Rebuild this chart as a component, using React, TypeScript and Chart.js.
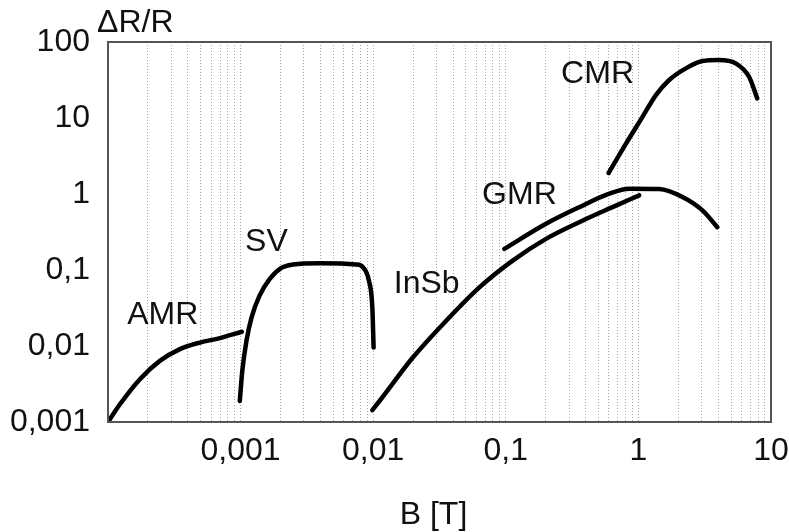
import React, { useEffect, useRef } from "react";
import { Chart, registerables } from "chart.js";

Chart.register(...registerables);

// Magnetic field B [T] and relative resistance change ΔR/R for each effect
const amrB = [1e-4, 1.23e-4, 1.74e-4, 2.46e-4, 3.49e-4, 4.93e-4, 6.97e-4, 1.02e-3];
const amrR = [1e-3, 1.71e-3, 3.66e-3, 6.38e-3, 9.1e-3, 1.11e-2, 1.27e-2, 1.54e-2];

const svB = [9.86e-4, 1.03e-3, 1.107e-3, 1.21e-3, 1.39e-3, 1.66e-3, 2.03e-3, 2.48e-3, 3.95e-3, 7.46e-3, 8.36e-3, 9.28e-3, 9.85e-3, 1.007e-2];
const svR = [1.89e-3, 4.71e-3, 1.17e-2, 2.38e-2, 4.6e-2, 7.63e-2, 0.1067, 0.118, 0.1226, 0.118, 0.1086, 0.0724, 0.0322, 0.00955];

const insbB = [9.85e-3, 1.117e-2, 1.99e-2, 3.55e-2, 6.32e-2, 0.1127, 0.201, 0.358, 0.638, 1.014];
const insbR = [1.43e-3, 1.89e-3, 7.05e-3, 0.0215, 0.0591, 0.133, 0.257, 0.426, 0.671, 0.959];

const gmrB = [0.0975, 0.201, 0.358, 0.603, 0.853, 1.435, 2.15, 3.04, 3.94];
const gmrR = [0.19, 0.406, 0.671, 1.01, 1.175, 1.16, 0.91, 0.608, 0.366];

const cmrB = [0.596, 0.806, 1.074, 1.355, 1.707, 2.28, 3.04, 4.05, 5.42, 6.83, 7.88];
const cmrR = [1.89, 4.61, 10.35, 20, 31.6, 45, 56.1, 58, 52.4, 34.9, 18.1];

// Curve names and the (B, ΔR/R) spot where each name is written
const curveNames = ["AMR", "SV", "InSb", "GMR", "CMR"];
const nameB = [2.585e-4, 1.567e-3, 0.0253, 0.1267, 0.492];
const nameR = [0.0256, 0.233, 0.0655, 0.97, 37.9];

// Axis ticks
const xDecades = [1e-4, 1e-3, 1e-2, 1e-1, 1, 10];
const xTickLabels = ["", "0,001", "0,01", "0,1", "1", "10"];
const yDecades = [1e-3, 1e-2, 1e-1, 1, 10, 100];
const yTickLabels = ["0,001", "0,01", "0,1", "1", "10", "100"];

const yTitle = "ΔR/R";
const xTitle = "B [T]";

const FONT = "'Liberation Sans', Arial, Helvetica, sans-serif";

function toPoints(xs: number[], ys: number[]) {
  return xs.map((x, i) => ({ x, y: ys[i] }));
}

function labelFor(value: number, decades: number[], labels: string[]) {
  for (let i = 0; i < decades.length; i++) {
    if (Math.abs(Math.log10(value) - Math.log10(decades[i])) < 1e-6) return labels[i];
  }
  return "";
}

const annotations = {
  id: "annotations",
  afterDatasetsDraw(chart: any) {
    const { ctx, chartArea, scales } = chart;
    ctx.save();
    // frame around the plot
    ctx.strokeStyle = "#555";
    ctx.lineWidth = 2;
    ctx.strokeRect(chartArea.left, chartArea.top, chartArea.right - chartArea.left, chartArea.bottom - chartArea.top);

    ctx.fillStyle = "#111";
    ctx.font = `32px ${FONT}`;
    ctx.textAlign = "center";
    ctx.textBaseline = "middle";
    curveNames.forEach((name, i) => {
      ctx.fillText(name, scales.x.getPixelForValue(nameB[i]), scales.y.getPixelForValue(nameR[i]));
    });

    // axis titles
    ctx.textAlign = "left";
    ctx.textBaseline = "alphabetic";
    ctx.fillText(yTitle, chartArea.left - 11, chartArea.top - 10);
    ctx.textAlign = "center";
    ctx.fillText(xTitle, (chartArea.left + chartArea.right) / 2 - 6, 524);
    ctx.restore();
  },
};

export default function App() {
  const canvasRef = useRef<HTMLCanvasElement | null>(null);

  useEffect(() => {
    if (!canvasRef.current) return;
    Chart.defaults.font.family = FONT;

    const line = (data: { x: number; y: number }[]) => ({
      data,
      borderColor: "#000",
      borderWidth: 4.5,
      pointRadius: 0,
      fill: false,
      cubicInterpolationMode: "monotone" as const,
      borderCapStyle: "round" as const,
      borderJoinStyle: "round" as const,
    });

    const chart = new Chart(canvasRef.current, {
      type: "line",
      data: {
        datasets: [
          { label: curveNames[0], ...line(toPoints(amrB, amrR)) },
          { label: curveNames[1], ...line(toPoints(svB, svR)) },
          { label: curveNames[2], ...line(toPoints(insbB, insbR)) },
          { label: curveNames[3], ...line(toPoints(gmrB, gmrR)) },
          { label: curveNames[4], ...line(toPoints(cmrB, cmrR)) },
        ],
      },
      options: {
        animation: false,
        responsive: true,
        maintainAspectRatio: false,
        layout: { padding: { left: 0, right: 18, top: 42, bottom: 0 } },
        plugins: { legend: { display: false }, tooltip: { enabled: false } },
        scales: {
          x: {
            type: "logarithmic",
            min: 1e-4,
            max: 10,
            afterBuildTicks(scale: any) {
              const ticks: { value: number }[] = [];
              for (let e = -4; e <= 0; e++) {
                for (let m = 1; m <= 9; m++) ticks.push({ value: m * Math.pow(10, e) });
              }
              ticks.push({ value: 10 });
              scale.ticks = ticks;
            },
            afterFit(scale: any) {
              scale.height = 110;
              scale.paddingLeft = 0;
              scale.paddingRight = 0;
            },
            ticks: {
              autoSkip: false,
              maxRotation: 0,
              padding: 10,
              color: "#111",
              font: { size: 32, family: FONT },
              callback: (v: any) => labelFor(Number(v), xDecades, xTickLabels),
            },
            grid: {
              display: true,
              drawTicks: false,
              color: "rgba(0,0,0,0.35)",
              lineWidth: 1,
            },
            border: { display: false, dash: [1, 2] },
          },
          y: {
            type: "logarithmic",
            min: 1e-3,
            max: 100,
            afterBuildTicks(scale: any) {
              scale.ticks = yDecades.map((value) => ({ value }));
            },
            afterFit(scale: any) {
              scale.width = 108;
              scale.paddingTop = 0;
              scale.paddingBottom = 0;
            },
            ticks: {
              autoSkip: false,
              padding: 18,
              color: "#111",
              font: { size: 32, family: FONT },
              callback: (v: any) => labelFor(Number(v), yDecades, yTickLabels),
            },
            grid: { display: false, drawTicks: false },
            border: { display: false },
          },
        },
      },
      plugins: [annotations],
    });

    return () => chart.destroy();
  }, []);

  return (
    <div style={{ position: "absolute", left: 0, top: 0, width: 789, height: 532, background: "#fff" }}>
      <canvas ref={canvasRef} />
    </div>
  );
}
